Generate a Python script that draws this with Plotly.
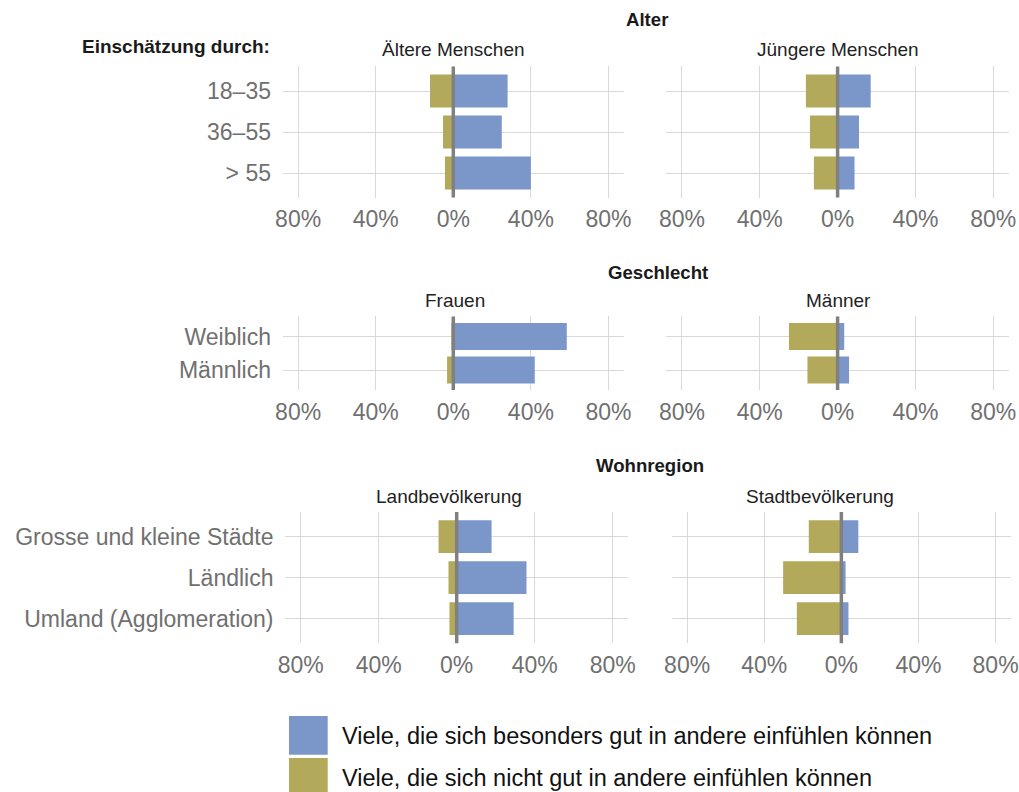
import plotly.graph_objects as go

# ---------------- data ----------------
alter_cats = ["18–35", "36–55", "> 55"]
aeltere_gut = [28.0, 25.0, 40.0]
aeltere_nicht = [12.0, 5.3, 4.3]
juengere_gut = [17.0, 11.0, 8.7]
juengere_nicht = [16.3, 14.2, 12.2]

geschl_cats = ["Weiblich", "Männlich"]
frauen_gut = [58.5, 42.0]
frauen_nicht = [1.0, 3.2]
maenner_gut = [3.4, 5.9]
maenner_nicht = [25.0, 15.5]

region_cats = ["Grosse und kleine Städte", "Ländlich", "Umland (Agglomeration)"]
land_gut = [17.9, 35.8, 29.2]
land_nicht = [9.3, 4.2, 3.7]
stadt_gut = [8.8, 2.2, 3.7]
stadt_nicht = [16.9, 30.2, 23.1]

tick_vals = [-80, -40, 0, 40, 80]
tick_text = ["80%", "40%", "0%", "40%", "80%"]

section_titles = ["Alter", "Geschlecht", "Wohnregion"]
panel_titles = ["Ältere Menschen", "Jüngere Menschen", "Frauen", "Männer",
                "Landbevölkerung", "Stadtbevölkerung"]
legend_labels = ["Viele, die sich besonders gut in andere einfühlen können",
                 "Viele, die sich nicht gut in andere einfühlen können"]
left_header = "Einschätzung durch:"

# ---------------- styling ----------------
W, H = 1019, 792
# horizontal mapping observed for the rendered page: paper x spans 8 .. 1011 px
X_OFF, X_SPAN = 8.0, 1003.0
BLUE = "#7b97c9"
OLIVE = "#b3a95a"
GRID = "#d9d9d9"
ZERO = "#808080"
TICK_GRAY = "#707070"
FONT = "Liberation Sans, Arial, sans-serif"

def px_x(p):
    return min(1.0, max(0.0, (p - X_OFF) / X_SPAN))

def px_y(p):
    return 1 - p / H

panels = [
    (alter_cats, aeltere_gut, aeltere_nicht, (282.6, 624.0, 66.4, 197.6)),
    (alter_cats, juengere_gut, juengere_nicht, (666.4, 1008.8, 66.4, 197.6)),
    (geschl_cats, frauen_gut, frauen_nicht, (282.6, 624.0, 316.4, 390.1)),
    (geschl_cats, maenner_gut, maenner_nicht, (666.4, 1008.8, 316.4, 390.1)),
    (region_cats, land_gut, land_nicht, (285.1, 628.3, 512.1, 643.3)),
    (region_cats, stadt_gut, stadt_nicht, (671.7, 1014.9, 512.1, 643.3)),
]
panel_title_pos = [(453.3, 49.7), (837.6, 49.7), (454.5, 301), (838.5, 301),
                   (449.0, 496), (820.0, 496)]
section_title_pos = [(646.5, 19.7), (657.5, 272.5), (650.0, 466.0)]

fig = go.Figure()
layout = dict(
    width=W, height=H, autosize=False,
    margin=dict(l=0, r=0, t=0, b=0),
    paper_bgcolor="white", plot_bgcolor="white",
    barmode="relative", bargap=0.2,
    showlegend=False,
    font=dict(family=FONT),
)
shapes = []
annotations = []

for i, (cats, gut, nicht, (x0, x1, yt, yb)) in enumerate(panels):
    n = i + 1
    xa = "x" if n == 1 else f"x{n}"
    ya = "y" if n == 1 else f"y{n}"
    fig.add_trace(go.Bar(y=cats, x=gut, orientation="h", marker_color=BLUE,
                         marker_line_width=0, xaxis=xa, yaxis=ya, width=0.8,
                         name=legend_labels[0]))
    fig.add_trace(go.Bar(y=cats, x=[-v for v in nicht], orientation="h",
                         marker_color=OLIVE, marker_line_width=0,
                         xaxis=xa, yaxis=ya, width=0.8, name=legend_labels[1]))
    ncat = len(cats)
    layout["xaxis" if n == 1 else f"xaxis{n}"] = dict(
        domain=[px_x(x0), px_x(x1)], anchor=ya, range=[-88, 88],
        tickvals=tick_vals, ticktext=tick_text, showgrid=True,
        gridcolor=GRID, gridwidth=1.2, zeroline=False, showline=False,
        ticks="outside", ticklen=1, tickcolor="rgba(0,0,0,0)",
        ticklabeloverflow="allow",
        tickfont=dict(size=23, color=TICK_GRAY, family=FONT), fixedrange=True,
    )
    layout["yaxis" if n == 1 else f"yaxis{n}"] = dict(
        domain=[px_y(yb), px_y(yt)], anchor=xa,
        categoryorder="array", categoryarray=cats,
        range=[ncat - 1 + 0.6, -0.6], showgrid=True, gridcolor=GRID,
        gridwidth=1.2, zeroline=False, showline=False,
        showticklabels=(i % 2 == 0),
        ticks="outside", ticklen=6, tickcolor="rgba(0,0,0,0)",
        tickfont=dict(size=23, color=TICK_GRAY, family=FONT), fixedrange=True,
    )
    shapes.append(dict(type="line", xref=xa, yref=f"{ya} domain",
                       x0=0, x1=0, y0=0, y1=1,
                       line=dict(color=ZERO, width=3.5), layer="above"))
    cx, cy = panel_title_pos[i]
    annotations.append(dict(text=panel_titles[i], x=px_x(cx), y=px_y(cy),
                            xref="paper", yref="paper", showarrow=False,
                            xanchor="center", yanchor="middle",
                            font=dict(size=19, color="#222222", family=FONT)))

for t, (cx, cy) in zip(section_titles, section_title_pos):
    annotations.append(dict(text=f"<b>{t}</b>", x=px_x(cx), y=px_y(cy),
                            xref="paper", yref="paper", showarrow=False,
                            xanchor="center", yanchor="middle",
                            font=dict(size=18.6, color="#1a1a1a", family=FONT)))

annotations.append(dict(text=f"<b>{left_header}</b>", x=px_x(272), y=px_y(46.5),
                        xref="paper", yref="paper", showarrow=False,
                        xanchor="right", yanchor="middle",
                        font=dict(size=19, color="#1a1a1a", family=FONT)))

for (col, lab, yt, yb, ty) in [(BLUE, legend_labels[0], 716, 754.7, 736.3),
                               (OLIVE, legend_labels[1], 758, 800, 777.5)]:
    shapes.append(dict(type="rect", xref="paper", yref="paper",
                       x0=px_x(289), x1=px_x(327.7), y0=px_y(yb), y1=px_y(yt),
                       fillcolor=col, line=dict(width=0)))
    annotations.append(dict(text=lab, x=px_x(340), y=px_y(ty), xref="paper",
                            yref="paper", showarrow=False, xanchor="left",
                            yanchor="middle",
                            font=dict(size=23.5, color="#111111", family=FONT)))

layout["shapes"] = shapes
layout["annotations"] = annotations
fig.update_layout(**layout)

page_css = ("document.documentElement.style.margin='0';"
            "document.documentElement.style.overflow='hidden';"
            "document.body.style.margin='0';"
            "document.body.style.padding='0';"
            "document.body.style.overflow='hidden';")
fig.write_html("out.html", config={"displayModeBar": False, "responsive": False},
               post_script=page_css)
